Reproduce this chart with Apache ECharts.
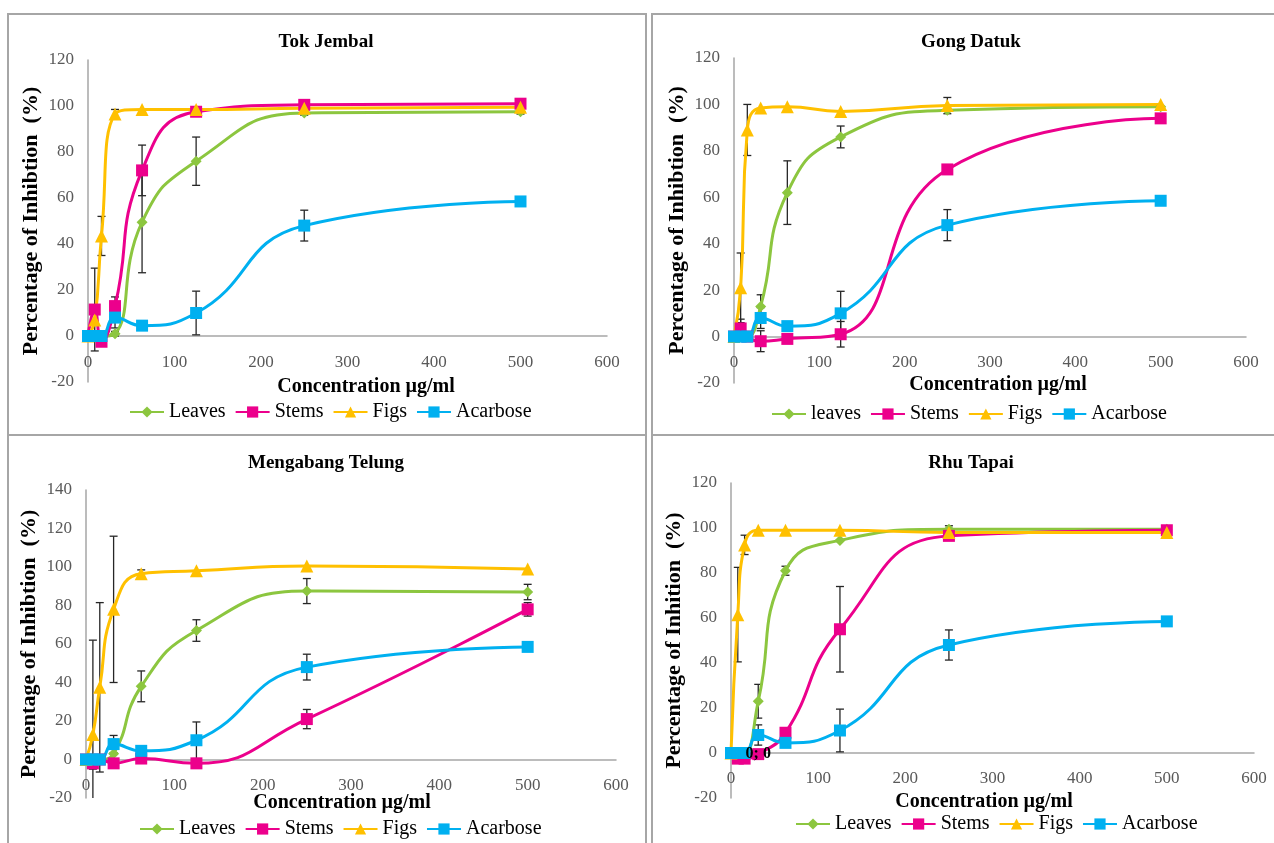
<!DOCTYPE html>
<html>
<head>
<meta charset="utf-8">
<script src="https://cdn.jsdelivr.net/npm/echarts@6/dist/echarts.min.js"></script>
<style>
  html, body { margin: 0; padding: 0; background: #fff; }
  #chart { width: 1274px; height: 843px; }
</style>
</head>
<body>
<div id="chart"></div>
<script>
// concentrations (µg/ml)
const conc = [0, 7.8, 15.6, 31.25, 62.5, 125, 250, 500];
const xTicks = [0, 100, 200, 300, 400, 500, 600];

// positive control, same in every panel
const acarbose   = [0, 0, 0, 8, 4.5, 10, 48, 58.5];
const acarboseSd = [0, 0, 0, 4.5, 1, 9.5, 6.7, 0.5];

// Tok Jembal
const tjLeaves   = [0, 0, 0, 1, 49.5, 76, 97, 97.5];
const tjLeavesSd = [0, 0, 0, 1, 22, 10.5, 1, 1];
const tjStems    = [0, 11.5, -2.5, 13, 72, 97.5, 100.5, 101];
const tjStemsSd  = [0, 18, 0, 4, 11, 1, 1, 0];
const tjFigs     = [0, 7, 43.5, 96.5, 98.5, 98.5, 99, 99.5];
const tjFigsSd   = [0, 0, 8.5, 2, 0, 0, 0, 0];

// Gong Datuk
const gdLeaves   = [0, 0, 0, 13, 62, 86, 97.5, 99];
const gdLeavesSd = [0, 0, 0, 5, 13.7, 4.7, 0, 0];
const gdStems    = [0, 3.5, 0, -2, -1, 1, 72, 94];
const gdStemsSd  = [0, 4, 0, 4.5, 0, 5.5, 0, 0];
const gdFigs     = [0, 21, 89, 98.5, 99, 97, 99.5, 100];
const gdFigsSd   = [0, 15, 11, 0, 0, 0, 3.5, 0];

// Mengabang Telung
const mtLeaves   = [0, 0, 0, 3, 38, 67, 87.5, 87];
const mtLeavesSd = [0, 0, 0, 0, 8, 5.6, 6.5, 4];
const mtStems    = [0, -2, 0, -2, 0.5, -2, 21, 78];
const mtStemsSd  = [0, 3, 0, 0, 0, 0, 5, 3.5];
const mtFigs     = [0, 13, 37.5, 78, 96.5, 98, 100.5, 99];
const mtFigsSd   = [0, 49, 44, 38, 2, 0, 0, 0];

// Rhu Tapai
const rtLeaves   = [0, 0, 0, 23, 81, 94.5, 99.5, 99.5];
const rtLeavesSd = [0, 0, 0, 7.5, 2, 0, 1.5, 0];
const rtStems    = [0, -2.5, -2.5, -0.5, 9, 55, 96.5, 99];
const rtStemsSd  = [0, 0, 0, 0, 0, 19, 0, 0];
const rtFigs     = [0, 61.5, 92.5, 99, 99, 99, 98, 98];
const rtFigsSd   = [0, 21, 4.3, 0, 0, 0, 0, 0];
const rtStemsLabel = '0; 0';

const FONT = 'Liberation Serif';
const colors = { leaves: '#8cc63f', stems: '#ec008c', figs: '#ffc000', acarbose: '#00b0f0' };

const panels = [
  { title: 'Tok Jembal', leavesName: 'Leaves', yName: 'Percentage of Inhibtion  (%)', yMax: 120,
    leaves: tjLeaves, leavesSd: tjLeavesSd, stems: tjStems, stemsSd: tjStemsSd, figs: tjFigs, figsSd: tjFigsSd,
    grid: { left: 88, top: 60, width: 519, height: 322 }, labelMargin: -28,
    titleAt: [326, 42], xNameAt: [366, 387], legendAt: [129, 402] },
  { title: 'Gong Datuk', leavesName: 'leaves', yName: 'Percentage of Inhibtion  (%)', yMax: 120,
    leaves: gdLeaves, leavesSd: gdLeavesSd, stems: gdStems, stemsSd: gdStemsSd, figs: gdFigs, figsSd: gdFigsSd,
    grid: { left: 734, top: 58, width: 512, height: 325 }, labelMargin: -29,
    titleAt: [971, 42], xNameAt: [998, 385], legendAt: [771, 404] },
  { title: 'Mengabang Telung', leavesName: 'Leaves', yName: 'Percentage of Inhibtion  (%)', yMax: 140,
    leaves: mtLeaves, leavesSd: mtLeavesSd, stems: mtStems, stemsSd: mtStemsSd, figs: mtFigs, figsSd: mtFigsSd,
    grid: { left: 86, top: 490, width: 530, height: 308 }, labelMargin: -21,
    titleAt: [326, 463], xNameAt: [342, 803], legendAt: [139, 819] },
  { title: 'Rhu Tapai', leavesName: 'Leaves', yName: 'Percentage of Inhition  (%)', yMax: 120,
    leaves: rtLeaves, leavesSd: rtLeavesSd, stems: rtStems, stemsSd: rtStemsSd, figs: rtFigs, figsSd: rtFigsSd,
    grid: { left: 731, top: 483, width: 523, height: 315 }, labelMargin: -28,
    titleAt: [971, 463], xNameAt: [984, 802], legendAt: [795, 814], stemsLabel: rtStemsLabel }
];

function renderErr(params, api) {
  const x = api.value(0);
  const lo = api.coord([x, api.value(1)]);
  const hi = api.coord([x, api.value(2)]);
  const w = 4;
  const style = { stroke: '#262626', lineWidth: 1.3 };
  return {
    type: 'group',
    children: [
      { type: 'line', shape: { x1: hi[0], y1: hi[1], x2: lo[0], y2: lo[1] }, style },
      { type: 'line', shape: { x1: hi[0] - w, y1: hi[1], x2: hi[0] + w, y2: hi[1] }, style },
      { type: 'line', shape: { x1: lo[0] - w, y1: lo[1], x2: lo[0] + w, y2: lo[1] }, style }
    ]
  };
}

const grids = [], xAxes = [], yAxes = [], series = [], legends = [], graphics = [];

// panel frames
[[8, 14, 638, 421], [652, 14, 640, 421], [8, 435, 638, 420], [652, 435, 640, 420]].forEach(r => {
  graphics.push({ type: 'rect', shape: { x: r[0], y: r[1], width: r[2], height: r[3] },
    style: { fill: 'none', stroke: '#a6a6a6', lineWidth: 2 }, silent: true });
});

panels.forEach((p, i) => {
  grids.push(p.grid);
  xAxes.push({
    gridIndex: i, type: 'value', min: 0, max: 600, interval: 100,
    axisLine: { onZero: true, lineStyle: { color: '#a6a6a6', width: 1.5 } },
    axisTick: { show: false }, splitLine: { show: false },
    axisLabel: { color: '#595959', fontFamily: FONT, fontSize: 17, margin: p.labelMargin,
      formatter: v => xTicks.includes(v) ? String(v) : '' }
  });
  yAxes.push({
    gridIndex: i, type: 'value', min: -20, max: p.yMax, interval: 20,
    name: p.yName, nameLocation: 'middle', nameGap: 46, nameMoveOverlap: false,
    nameTextStyle: { fontFamily: FONT, fontSize: 22, fontWeight: 'bold', color: '#000' },
    axisLine: { show: true, onZero: false, lineStyle: { color: '#a6a6a6', width: 1.5 } },
    axisTick: { show: false }, splitLine: { show: false },
    axisLabel: { color: '#595959', fontFamily: FONT, fontSize: 17, margin: 14 }
  });

  const groups = [
    { name: p.leavesName, vals: p.leaves, sd: p.leavesSd, color: colors.leaves, symbol: 'diamond', size: 11 },
    { name: 'Stems', vals: p.stems, sd: p.stemsSd, color: colors.stems, symbol: 'rect', size: 12 },
    { name: 'Figs', vals: p.figs, sd: p.figsSd, color: colors.figs, symbol: 'triangle', size: 13 },
    { name: 'Acarbose', vals: acarbose, sd: acarboseSd, color: colors.acarbose, symbol: 'rect', size: 12 }
  ];

  groups.forEach(g => {
    const data = conc.map((c, k) => {
      const item = { value: [c, g.vals[k]] };
      if (g.name === 'Stems' && p.stemsLabel && k === 3) {
        item.label = { show: true, position: 'inside', formatter: p.stemsLabel,
          fontFamily: FONT, fontSize: 16, fontWeight: 'bold', color: '#000' };
      }
      return item;
    });
    series.push({
      type: 'line', name: g.name, xAxisIndex: i, yAxisIndex: i,
      data, smooth: true, symbol: g.symbol, symbolSize: g.size, showSymbol: true,
      lineStyle: { color: g.color, width: 3 }, itemStyle: { color: g.color },
      z: 3, animation: false
    });
    const errData = [];
    conc.forEach((c, k) => {
      if (g.sd[k] > 0) errData.push([c, g.vals[k] - g.sd[k], g.vals[k] + g.sd[k]]);
    });
    series.push({
      type: 'custom', name: g.name + ' SD', xAxisIndex: i, yAxisIndex: i,
      data: errData, renderItem: renderErr, encode: { x: 0, y: [1, 2] },
      clip: true, z: 2, silent: true, animation: false
    });
  });

  legends.push({
    left: p.legendAt[0], top: p.legendAt[1], orient: 'horizontal', padding: 0,
    data: [p.leavesName, 'Stems', 'Figs', 'Acarbose'],
    itemWidth: 34, itemHeight: 14, itemGap: 9,
    textStyle: { fontFamily: FONT, fontSize: 20, color: '#000' },
    selectedMode: false
  });

  graphics.push({ type: 'text', x: p.titleAt[0], y: p.titleAt[1], silent: true,
    style: { text: p.title, fontFamily: FONT, fontSize: 19, fontWeight: 'bold', fill: '#000',
      align: 'center', verticalAlign: 'middle' } });
  graphics.push({ type: 'text', x: p.xNameAt[0], y: p.xNameAt[1], silent: true,
    style: { text: 'Concentration µg/ml', fontFamily: FONT, fontSize: 20, fontWeight: 'bold', fill: '#000',
      align: 'center', verticalAlign: 'middle' } });
});

const chart = echarts.init(document.getElementById('chart'), null, { renderer: 'canvas' });
chart.setOption({
  animation: false,
  backgroundColor: '#fff',
  grid: grids, xAxis: xAxes, yAxis: yAxes, legend: legends,
  series, graphic: graphics
});
</script>
</body>
</html>
